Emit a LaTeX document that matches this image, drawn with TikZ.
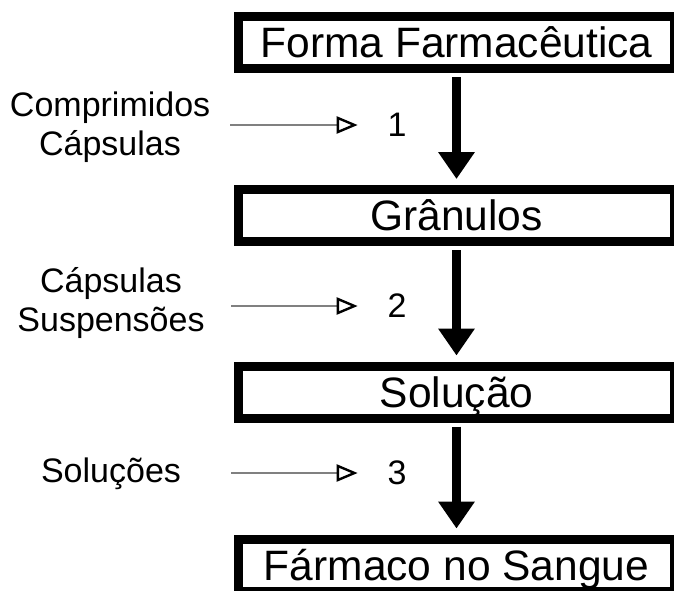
\documentclass[tikz,border=0pt]{standalone}
\usepackage{fontspec}
\setmainfont{Liberation Sans}
\usetikzlibrary{arrows.meta}

\begin{document}
\begin{tikzpicture}[x=0.5pt,y=-0.5pt,
    stage/.style={draw,line width=4.5pt,minimum width=218pt,minimum height=26pt,inner sep=0pt,
        text height=15.3pt,text depth=0pt,font=\fontsize{21.25}{25}\selectfont},
    route/.style={inner sep=0pt,text width=100pt,align=center,font=\fontsize{17}{19.5}\selectfont},
    num/.style={inner sep=0pt,font=\fontsize{17}{19.5}\selectfont},
    flow/.style={-{Triangle[length=13.5pt,width=17.5pt]},line width=4.5pt,shorten <=2pt,shorten >=3pt},
    feed/.style={-{Triangle[open,length=10.5pt,width=8.5pt,line width=1.2pt,color=black]},gray,
        line width=0.6pt,shorten <=10pt,shorten >=14.75pt}]
    \clip (0,0) rectangle (674,590);

    \node[stage] at (456.5,42.5) (forma) {Forma Farmacêutica};
    \node[stage] at (456.5,215.5) (granulos) {Grânulos};
    \node[stage] at (456.5,392) (solucao) {Solução};
    \node[stage] at (456.5,565) (sangue) {Fármaco no Sangue};

    \draw[flow] (forma.south) -- (granulos.north);
    \draw[flow] (granulos.south) -- (solucao.north);
    \draw[flow] (solucao.south) -- (sangue.north);

    \node[route] at (110,127) (comp) {Comprimidos\\Cápsulas};
    \node[route] at (111,303.5) (susp) {Cápsulas\\Suspensões};
    \node[route] at (111,474) (sol) {Soluções};

    \node[num] at (397,125) (n1) {1};
    \node[num] at (397,306) (n2) {2};
    \node[num] at (397,473) (n3) {3};

    \draw[feed] (comp.east |- n1.center) -- (n1.west);
    \draw[feed] (susp.east |- n2.center) -- (n2.west);
    \draw[feed] (sol.east |- n3.center) -- (n3.west);
\end{tikzpicture}
\end{document}
